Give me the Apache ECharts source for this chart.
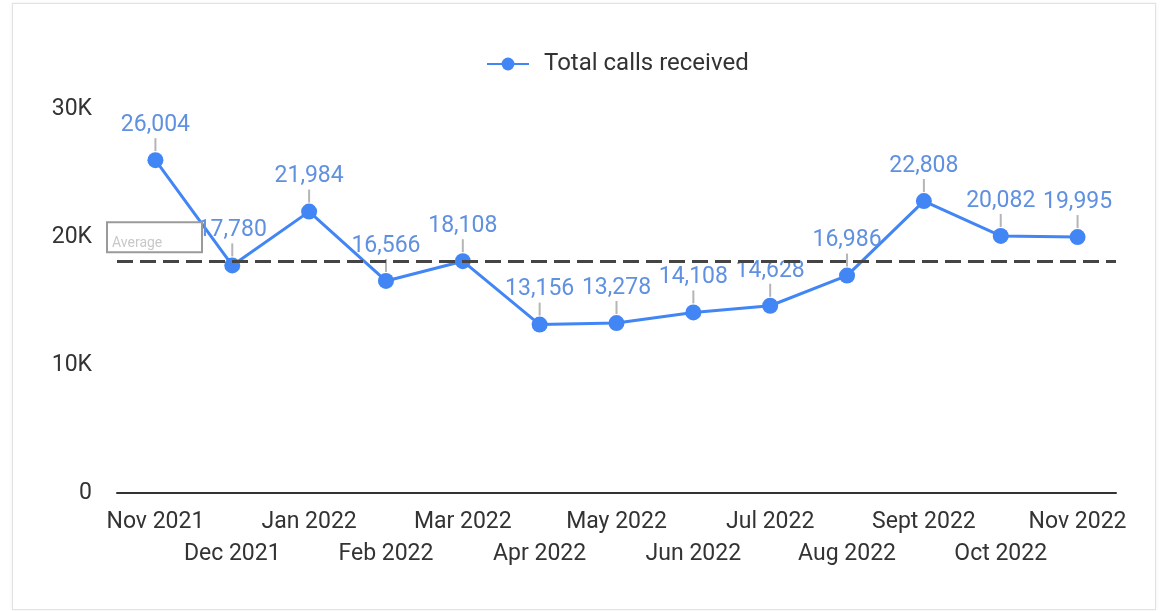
<!DOCTYPE html>
<html>
<head>
<meta charset="utf-8">
<script src="https://cdn.jsdelivr.net/npm/echarts@6/dist/echarts.min.js"></script>
<style>
  html, body { margin: 0; padding: 0; background: #fff; }
  #frame {
    position: absolute; left: 12px; top: 3px; width: 1142px; height: 605px;
    border: 1px solid #e2e2e2; box-shadow: 0 0 3px rgba(0,0,0,0.08);
  }
  #main { position: absolute; left: 0; top: 0; width: 1161px; height: 611px; }
</style>
</head>
<body>
<div id="frame"></div>
<div id="main"></div>
<script>
// months shown on the x axis
const months = ['Nov 2021', 'Dec 2021', 'Jan 2022', 'Feb 2022', 'Mar 2022', 'Apr 2022', 'May 2022',
  'Jun 2022', 'Jul 2022', 'Aug 2022', 'Sept 2022', 'Oct 2022', 'Nov 2022'];
// total calls received per month
const calls = [26004, 17780, 21984, 16566, 18108, 13156, 13278, 14108, 14628, 16986, 22808, 20082, 19995];
const yTicks = [0, 10000, 20000, 30000];

const chart = echarts.init(document.getElementById('main'));
const font = 'Roboto, "Noto Sans", sans-serif';

chart.setOption({
  animation: false,
  textStyle: { fontFamily: font },
  legend: {
    data: ['Total calls received'],
    left: 481,
    top: 47,
    itemWidth: 42,
    itemHeight: 16,
    textStyle: { fontSize: 24, color: '#333', fontFamily: font, padding: [0, 0, 0, 10] }
  },
  grid: { left: 117, right: 45, top: 109, bottom: 118 },
  xAxis: {
    type: 'category',
    data: months,
    boundaryGap: true,
    axisLine: { lineStyle: { color: '#333', width: 2 } },
    axisTick: { show: false },
    axisLabel: {
      interval: 0,
      margin: 13,
      fontSize: 23,
      lineHeight: 32,
      color: '#333',
      formatter: (v, i) => (i % 2 === 1 ? '\n' + v : v)
    }
  },
  yAxis: {
    type: 'value',
    min: yTicks[0],
    max: yTicks[yTicks.length - 1],
    interval: 10000,
    splitLine: { show: false },
    axisLine: { show: false },
    axisTick: { show: false },
    axisLabel: {
      margin: 25,
      fontSize: 23,
      color: '#333',
      formatter: v => (v === 0 ? '0' : v / 1000 + 'K')
    }
  },
  series: [{
    name: 'Total calls received',
    type: 'line',
    data: calls,
    symbol: 'circle',
    symbolSize: 16,
    lineStyle: { color: '#4285f4', width: 3 },
    itemStyle: { color: '#4285f4' },
    label: {
      show: true,
      position: 'top',
      distance: 1,
      formatter: p => '{v|' + p.value.toLocaleString('en-US') + '}\n{l| }',
      rich: {
        v: { fontSize: 23, color: '#6090e0', lineHeight: 26, align: 'center', fontFamily: font },
        l: { width: 2, height: 13, lineHeight: 13, backgroundColor: '#b5b5b5', align: 'center', fontSize: 1 }
      }
    },
    markLine: {
      silent: true,
      symbol: 'none',
      data: [{ type: 'average' }],
      lineStyle: { color: '#444', width: 3, type: [16, 7] },
      label: {
        position: 'insideStartTop',
        distance: [-9, 10],
        formatter: 'Average',
        color: '#c8c8c8',
        fontSize: 14,
        width: 85,
        height: 22,
        padding: [5, 4, 1, 4],
        backgroundColor: '#fff',
        borderColor: '#9a9a9a',
        borderWidth: 2
      }
    }
  }]
});
</script>
</body>
</html>
